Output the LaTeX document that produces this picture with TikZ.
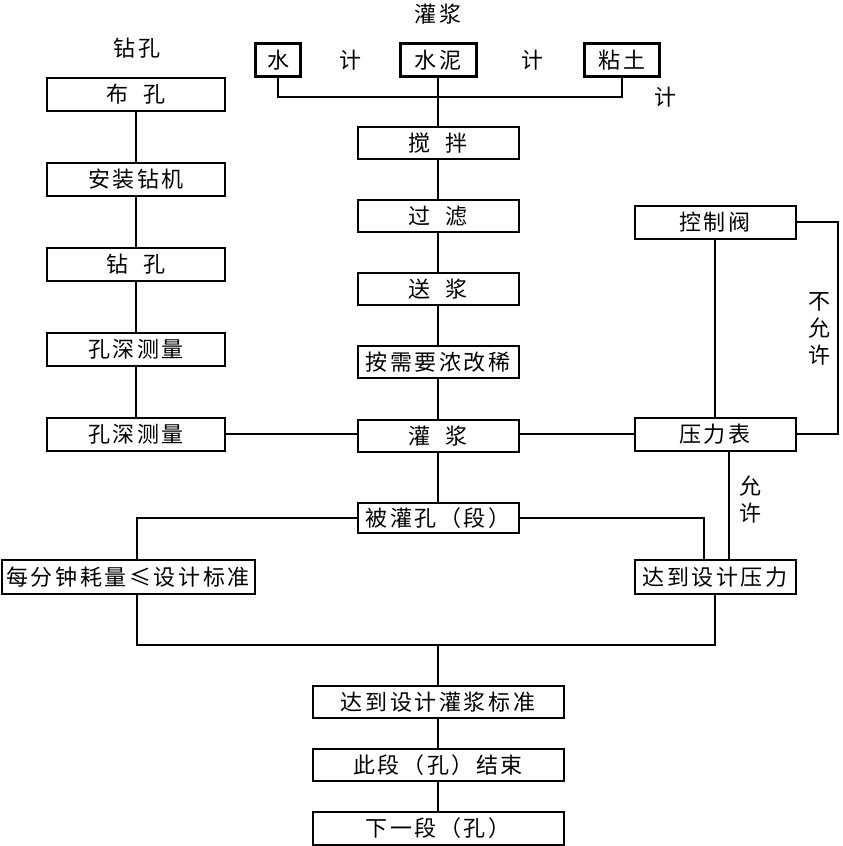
\documentclass[tikz,border=0pt]{standalone}
\usepackage{fontspec}
\setmainfont{Noto Sans CJK SC}[LetterSpace=12]
\usetikzlibrary{positioning}

\begin{document}
\begin{tikzpicture}[x=1pt, y=-1pt,
    every node/.style={font=\fontsize{22}{27}\selectfont, inner sep=0pt, outer sep=0pt, align=center},
    box/.style={draw, line width=2pt, minimum height=33pt},
    lbox/.style={box, minimum width=178pt},
    cbox/.style={box, minimum width=161pt, minimum height=32pt},
    tbox/.style={box, line width=3pt},
    wire/.style={line width=2pt}]
    \useasboundingbox (0,0) rectangle (843,846);

    % top: materials
    \node (guanjianglbl) at (438,14) {灌浆};
    \node (shui)    [tbox, minimum width=45pt] at (278,60) {水};
    \node (ji1)     at (350,60) {计};
    \node (shuini)  [tbox, minimum width=76pt] at (438,60) {水泥};
    \node (ji2)     at (532,60) {计};
    \node (niantu)  [tbox, minimum width=75pt] at (622,60) {粘土};
    \node (ji3)     at (665,97) {计};
    \coordinate (mix) at (438,97);

    % left column: drilling
    \node (zuanlbl) at (137,48) {钻孔};
    \node (bukong)   [lbox] at (136,94) {布\ \ 孔};
    \node (anzhuang) [lbox, below=52pt of bukong]   {安装钻机};
    \node (zuankong) [lbox, below=52pt of anzhuang] {钻\ \ 孔};
    \node (celiang1) [lbox, below=52pt of zuankong] {孔深测量};
    \node (celiang2) [lbox, below=52pt of celiang1] {孔深测量};

    % center column: grout
    \node (jiaoban)   [cbox] at (438,143) {搅\ \ 拌};
    \node (guolv)     [cbox, below=41pt of jiaoban]   {过\ \ 滤};
    \node (songjiang) [cbox, below=41pt of guolv]     {送\ \ 浆};
    \node (tiaojie)   [cbox, below=41pt of songjiang] {按需要浓改稀};
    \node (guanjiang) [cbox, below=42pt of tiaojie]   {灌\ \ 浆};
    \node (beiguan)   [cbox, minimum height=30pt, below=51pt of guanjiang] {被灌孔（段）};

    % right column: pressure
    \node (kongzhi)  [cbox, minimum height=33pt] at (715,222) {控制阀};
    \node (yalibiao) [cbox, minimum height=33pt] at (715,434) {压力表};
    \node (buyunxu)  at (819,329) {不\\允\\许};
    \node (dadaoyl)  [cbox, minimum height=34pt] at (715,577) {达到设计压力};
    \node (yunxu)    at (750,500) {允\\许};
    \node (haoliang) [box, minimum width=253pt, minimum height=34pt] at (128,577) {每分钟耗量≤设计标准};

    % bottom
    \coordinate (join) at (438,645);
    \node (biaozhun) [box, minimum width=251pt, minimum height=32pt] at (438,702) {达到设计灌浆标准};
    \node (jieshu)   [box, minimum width=251pt, minimum height=32pt, below=31pt of biaozhun] {此段（孔）结束};
    \node (xiayi)    [box, minimum width=251pt, below=31pt of jieshu] {下一段（孔）};

    \draw[wire] (shui) |- (mix) -| (niantu);
    \draw[wire] (shuini) -- (jiaoban);
    \draw[wire] (bukong) -- (anzhuang) -- (zuankong) -- (celiang1) -- (celiang2);
    \draw[wire] (jiaoban) -- (guolv) -- (songjiang) -- (tiaojie) -- (guanjiang) -- (beiguan);
    \draw[wire] (celiang2) -- (guanjiang.west |- celiang2);
    \draw[wire] (guanjiang.east |- yalibiao) -- (yalibiao);
    \draw[wire] (kongzhi) -- (yalibiao);
    \draw[wire] (kongzhi.east) -- ++(42,0) |- (yalibiao.east);
    \draw[wire] ([xshift=14pt]yalibiao.south) -- ([xshift=14pt]dadaoyl.north);
    \draw[wire] (beiguan.west) -| ([xshift=9pt]haoliang.north);
    \draw[wire] (beiguan.east) -| ([xshift=-11pt]dadaoyl.north);
    \draw[wire] ([xshift=9pt]haoliang.south) |- (dadaoyl.south |- join) -- (dadaoyl.south);
    \draw[wire] (join) -- (biaozhun);
    \draw[wire] (biaozhun) -- (jieshu) -- (xiayi);
\end{tikzpicture}
\end{document}
